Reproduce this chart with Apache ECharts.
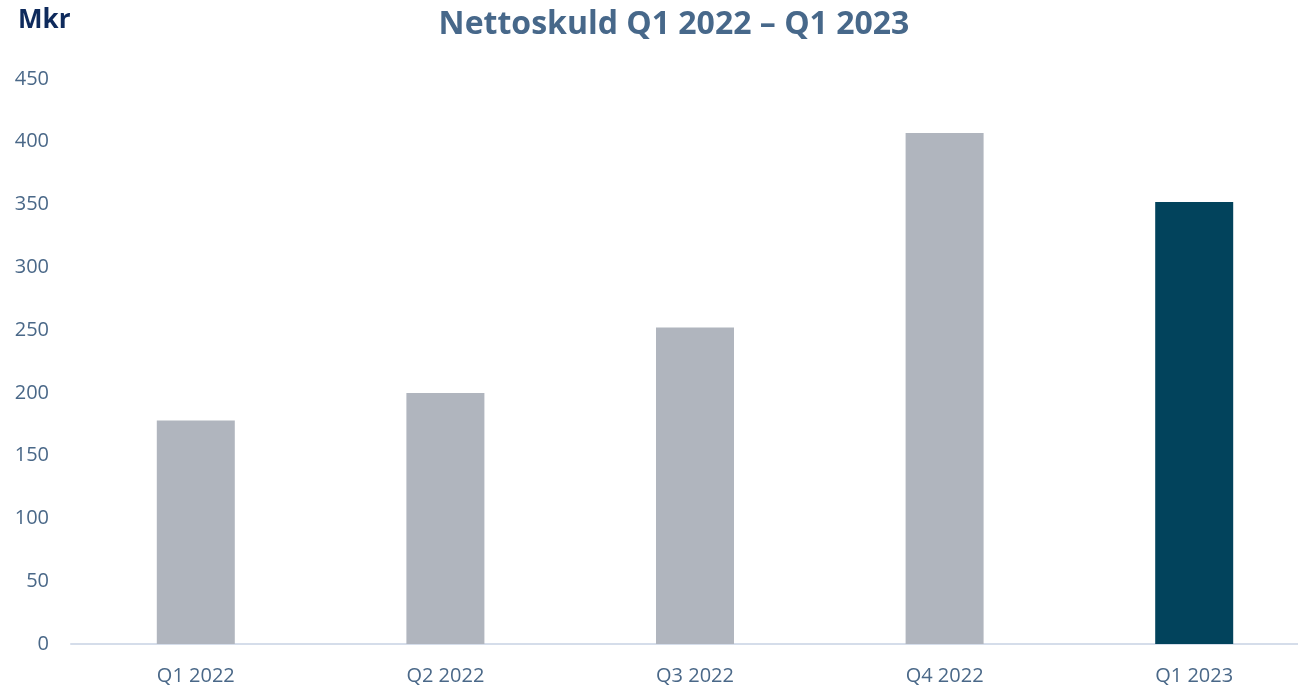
<!DOCTYPE html>
<html>
<head>
<meta charset="utf-8">
<script src="https://cdn.jsdelivr.net/npm/echarts@6/dist/echarts.min.js"></script>
<style>
  html, body { margin: 0; padding: 0; background: #fff; overflow: hidden; }
  /* chart is wider than the window: the last category's axis runs off the right edge */
  #chart { width: 1320px; height: 688px; }
</style>
</head>
<body>
<div id="chart"></div>
<script>
// Net debt per quarter (Mkr)
const categories = ['Q1 2022', 'Q2 2022', 'Q3 2022', 'Q4 2022', 'Q1 2023']
const values = [178, 200, 252, 407, 352]
const barColors = ['#B0B5BE', '#B0B5BE', '#B0B5BE', '#B0B5BE', '#02435C']

const chart = echarts.init(document.getElementById('chart'))

chart.setOption({
  animation: false,
  title: [
    {
      text: 'Nettoskuld Q1 2022 – Q1 2023',
      left: 669,
      textAlign: 'center',
      top: 4,
      textStyle: {
        fontFamily: 'Open Sans',
        fontSize: 32,
        fontWeight: 'bold',
        color: '#47688A',
      },
    },
    {
      text: 'Mkr',
      left: 13,
      top: 3,
      textStyle: {
        fontFamily: 'Open Sans',
        fontSize: 26,
        fontWeight: 'bold',
        color: '#0E2A5C',
      },
    },
  ],
  grid: {
    left: 71,
    top: 79,
    right: 1,
    height: 565,
    containLabel: false,
  },
  xAxis: {
    type: 'category',
    data: categories,
    axisLine: { lineStyle: { color: '#D5DDEA', width: 2 } },
    axisTick: { show: false },
    axisLabel: {
      fontFamily: 'Open Sans',
      fontSize: 20,
      color: '#4A6888',
      margin: 22,
    },
  },
  yAxis: {
    type: 'value',
    min: 0,
    max: 450,
    interval: 50,
    splitLine: { show: false },
    axisLine: { show: false },
    axisTick: { show: false },
    axisLabel: {
      fontFamily: 'Open Sans',
      fontSize: 20,
      color: '#4A6888',
      margin: 22,
    },
  },
  series: [
    {
      type: 'bar',
      barWidth: 78,
      data: values.map((v, i) => ({ value: v, itemStyle: { color: barColors[i] } })),
    },
  ],
})
</script>
</body>
</html>
